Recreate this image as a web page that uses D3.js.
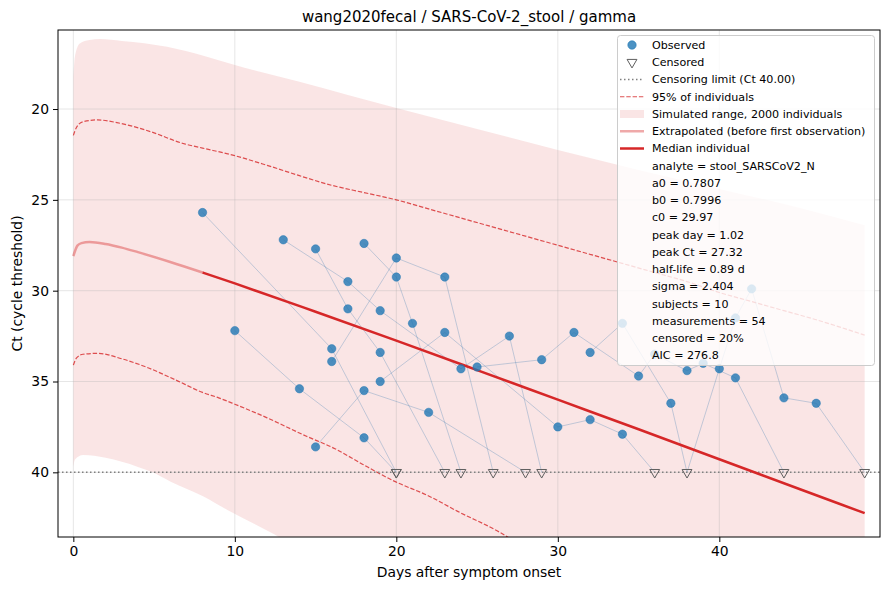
<head>
	<meta charset="utf-8">
	<script src="https://d3js.org/d3.v7.min.js"></script>
	<style>
		body {
			margin: 0;
			background: #fff;
		}
		svg text {
			font-family: "DejaVu Sans", sans-serif;
			fill: #000;
		}
		.tick text {
			font-size: 13.9px;
		}
	</style>
</head>
<body>

<svg width="890" height="590" id="chart"></svg>

<script>

	// one array per subject; null = below detection (censored at the limit)
	var subjectDays = [
		[13, 17, 19, 24, 27, 29],
		[15, 17, 19, 23],
		[10, 14, 18, 20],
		[15, 18, 22, 28],
		[18, 20, 21, 24],
		[8, 16, 20],
		[19, 23, 30, 32, 34, 36],
		[16, 20, 23, 26],
		[25, 29, 31, 35, 36, 38, 39, 41, 44],
		[32, 34, 37, 38, 40, 41, 42, 44, 46, 49]
	];
	var subjectCt = [
		[27.2, 29.5, 31.1, 34.3, 32.5, null],
		[27.7, 31.0, 33.4, null],
		[32.2, 35.4, 38.1, null],
		[38.6, 35.5, 36.7, null],
		[27.4, 29.25, 31.8, null],
		[25.7, 33.2, null],
		[35.0, 32.3, 37.5, 37.1, 37.9, null],
		[33.9, 28.2, 29.25, null],
		[34.2, 33.8, 32.3, 34.7, 33.5, 34.4, 34.0, 34.8, null],
		[33.4, 31.8, 36.2, null, 34.3, 31.5, 29.9, 35.9, 36.2, null]
	];
	var censorLimit = 40;

	// median individual
	var medianDays = [0, 0.25, 0.5, 1, 2, 3, 4, 6, 8, 10, 15, 20, 25, 30, 35, 40, 45, 49];
	var medianCt = [28.1, 27.52, 27.38, 27.32, 27.43, 27.63, 27.88, 28.42, 29.0, 29.6, 31.16, 32.75, 34.37, 36.0, 37.63, 39.28, 40.93, 42.25];

	// 95% of individuals
	var upperDays = [0, 0.2, 0.6, 1.5, 2.7, 4.8, 6.8, 8, 10, 12, 14, 16, 18, 20, 22, 24, 26, 28, 30, 32, 34, 36, 38, 40, 42, 44, 46, 49];
	var upperCt = [21.45, 21.0, 20.7, 20.6, 20.75, 21.25, 21.9, 22.15, 22.57, 23.1, 23.67, 24.2, 24.6, 25.0, 25.5, 26.0, 26.5, 27.0, 27.5, 28.0, 28.5, 29.0, 29.5, 30.1, 30.6, 31.1, 31.6, 32.45];
	var lowerDays = [0, 0.2, 0.6, 1.5, 3, 4.5, 6.3, 8, 9, 10, 12, 14.4, 16.2, 17.9, 19.9, 22, 23.8, 26.4, 28];
	var lowerCt = [34.1, 33.7, 33.5, 33.45, 33.75, 34.2, 34.9, 35.6, 35.9, 36.25, 37.0, 38.0, 38.7, 39.55, 40.5, 41.3, 42.15, 43.3, 44.2];

	// simulated range, 2000 individuals
	var simTopDays = [0, 0.1, 0.4, 1, 1.65, 3, 5.8, 8, 10, 14, 20, 25, 30, 35, 40, 45, 49];
	var simTopCt = [18.2, 17.1, 16.4, 16.2, 16.15, 16.25, 16.57, 17.05, 17.58, 18.5, 19.95, 21.1, 22.25, 23.35, 24.4, 25.45, 26.4];
	var simBottomDays = [0, 0.1, 0.6, 2, 4, 4.9, 6, 8, 9.6, 12.2, 14, 20, 30, 40, 49];
	var simBottomCt = [39.7, 39.3, 39.05, 39.2, 39.7, 40.0, 40.5, 41.3, 42.1, 43.3, 44.2, 47.5, 52.5, 57.5, 62];

	var xTicks = [0, 10, 20, 30, 40];
	var yTicks = [20, 25, 30, 35, 40];

	var legendItems = ["Observed", "Censored", "Censoring limit (Ct 40.00)", "95% of individuals",
		"Simulated range, 2000 individuals", "Extrapolated (before first observation)", "Median individual"];
	var fitStats = ["analyte = stool_SARSCoV2_N", "a0 = 0.7807", "b0 = 0.7996", "c0 = 29.97",
		"peak day = 1.02", "peak Ct = 27.32", "half-life = 0.89 d", "sigma = 2.404",
		"subjects = 10", "measurements = 54", "censored = 20%", "AIC = 276.8"];

	var red = "#d62728", blue = "#1f77b4";

	var svg = d3.select("#chart"),
		plot = {left: 58, right: 880, top: 30, bottom: 537};

	var x = d3.scaleLinear().domain([-0.95, 49.95]).range([plot.left, plot.right]);
	var y = d3.scaleLinear().domain([15.65, 43.56]).range([plot.top, plot.bottom]);

	svg.append("clipPath").attr("id", "clip")
		.append("rect")
		.attr("x", plot.left).attr("y", plot.top)
		.attr("width", plot.right - plot.left).attr("height", plot.bottom - plot.top);

	var g = svg.append("g").attr("clip-path", "url(#clip)");

	var zip = (days, vals) => days.map((d, i) => ({day: d, ct: vals[i]}));

	var curve = d3.line().x(d => x(d.day)).y(d => y(d.ct)).curve(d3.curveMonotoneX);

	// band: upper edge left to right, lower edge back right to left
	var simUpper = zip(simTopDays, simTopCt),
		simLower = zip(simBottomDays, simBottomCt);
	var lowerBack = curve(simLower.slice().reverse());
	var bandPath = curve(simUpper) + "L" + lowerBack.slice(1) + "Z";
	g.append("path")
		.attr("d", bandPath)
		.attr("fill", red)
		.attr("fill-opacity", 0.12);

	// grid
	g.selectAll(".gx").data(xTicks).enter().append("line")
		.attr("x1", d => x(d)).attr("x2", d => x(d))
		.attr("y1", plot.top).attr("y2", plot.bottom)
		.attr("stroke", "#b0b0b0").attr("stroke-opacity", 0.4).attr("stroke-width", 0.8);
	g.selectAll(".gy").data(yTicks).enter().append("line")
		.attr("y1", d => y(d)).attr("y2", d => y(d))
		.attr("x1", plot.left).attr("x2", plot.right)
		.attr("stroke", "#b0b0b0").attr("stroke-opacity", 0.4).attr("stroke-width", 0.8);

	// 95% lines
	[zip(upperDays, upperCt), zip(lowerDays, lowerCt)].forEach(function(pts) {
		g.append("path")
			.attr("d", curve(pts))
			.attr("fill", "none")
			.attr("stroke", red)
			.attr("stroke-opacity", 0.8)
			.attr("stroke-width", 1.2)
			.attr("stroke-dasharray", "4.4,1.9");
	});

	// subject data
	var subjects = subjectDays.map((days, s) => days.map((d, i) => ({
		day: d,
		ct: subjectCt[s][i] == null ? censorLimit : subjectCt[s][i],
		censored: subjectCt[s][i] == null
	})));
	var points = [].concat(...subjects);

	g.selectAll(".subject")
		.data(subjects)
		.enter().append("path")
		.attr("class", "subject")
		.attr("d", d3.line().x(d => x(d.day)).y(d => y(d.ct)))
		.attr("fill", "none")
		.attr("stroke", "#4682b4")
		.attr("stroke-opacity", 0.32)
		.attr("stroke-width", 1);

	// censoring limit
	g.append("line")
		.attr("x1", plot.left).attr("x2", plot.right)
		.attr("y1", y(censorLimit)).attr("y2", y(censorLimit))
		.attr("stroke", "#808080")
		.attr("stroke-width", 1.5)
		.attr("stroke-dasharray", "1.5,2.5");

	// median individual, split at the first observation
	var firstDay = d3.min(points, d => d.day);
	var median = zip(medianDays, medianCt);
	g.append("path")
		.attr("d", curve(median.filter(d => d.day <= firstDay)))
		.attr("fill", "none").attr("stroke", red)
		.attr("stroke-opacity", 0.4).attr("stroke-width", 2.5);
	g.append("path")
		.attr("d", curve(median.filter(d => d.day >= firstDay)))
		.attr("fill", "none").attr("stroke", red)
		.attr("stroke-width", 2.5);

	var tri = d3.symbol().type(d3.symbolTriangle).size(42);

	g.selectAll(".obs")
		.data(points.filter(d => !d.censored))
		.enter().append("circle")
		.attr("cx", d => x(d.day))
		.attr("cy", d => y(d.ct))
		.attr("r", 4.2)
		.attr("fill", blue)
		.attr("fill-opacity", 0.8)
		.attr("stroke", blue)
		.attr("stroke-opacity", 0.8)
		.attr("stroke-width", 0.6);

	g.selectAll(".cens")
		.data(points.filter(d => d.censored))
		.enter().append("path")
		.attr("d", tri)
		.attr("transform", d => "translate(" + x(d.day) + "," + y(d.ct) + ") rotate(180)")
		.attr("fill", "none")
		.attr("stroke", "#5f5f5f")
		.attr("stroke-width", 1);

	// frame and axes
	svg.append("rect")
		.attr("x", plot.left).attr("y", plot.top)
		.attr("width", plot.right - plot.left).attr("height", plot.bottom - plot.top)
		.attr("fill", "none").attr("stroke", "#000").attr("stroke-width", 1);

	var xAxis = svg.append("g")
		.attr("transform", "translate(0," + plot.bottom + ")")
		.call(d3.axisBottom(x).tickValues(xTicks).tickSize(5).tickPadding(4));
	var yAxis = svg.append("g")
		.attr("transform", "translate(" + plot.left + ",0)")
		.call(d3.axisLeft(y).tickValues(yTicks).tickSize(5).tickPadding(4));
	[xAxis, yAxis].forEach(function(a) {
		a.select(".domain").remove();
		a.selectAll(".tick line").attr("stroke", "#000");
		a.selectAll(".tick text").attr("fill", "#000");
	});

	svg.append("text")
		.attr("x", (plot.left + plot.right) / 2)
		.attr("y", 22)
		.attr("text-anchor", "middle")
		.style("font-size", "15px")
		.text("wang2020fecal / SARS-CoV-2_stool / gamma");

	svg.append("text")
		.attr("x", (plot.left + plot.right) / 2)
		.attr("y", 577)
		.attr("text-anchor", "middle")
		.style("font-size", "13.9px")
		.text("Days after symptom onset");

	svg.append("text")
		.attr("transform", "translate(22," + (plot.top + plot.bottom) / 2 + ") rotate(-90)")
		.attr("text-anchor", "middle")
		.style("font-size", "13.9px")
		.text("Ct (cycle threshold)");

	// legend
	var rows = legendItems.concat(fitStats),
		rowY = i => 45 + i * 17.25;

	var legend = svg.append("g").attr("class", "legend");

	legend.append("rect")
		.attr("x", 617.5).attr("y", 35.5)
		.attr("width", 257).attr("height", 330)
		.attr("rx", 3)
		.attr("fill", "#fff").attr("fill-opacity", 0.8)
		.attr("stroke", "#cccccc").attr("stroke-width", 1);

	legend.selectAll(".row")
		.data(rows)
		.enter().append("text")
		.attr("x", 652)
		.attr("y", (d, i) => rowY(i))
		.attr("dy", "0.36em")
		.style("font-size", "11.1px")
		.text(d => d);

	legend.append("circle")
		.attr("cx", 632).attr("cy", rowY(0)).attr("r", 4.2)
		.attr("fill", blue).attr("fill-opacity", 0.8)
		.attr("stroke", blue).attr("stroke-width", 0.6);
	legend.append("path")
		.attr("d", tri)
		.attr("transform", "translate(632," + rowY(1) + ") rotate(180)")
		.attr("fill", "none").attr("stroke", "#5f5f5f");
	legend.append("line")
		.attr("x1", 620).attr("x2", 644).attr("y1", rowY(2)).attr("y2", rowY(2))
		.attr("stroke", "#808080").attr("stroke-width", 1.5).attr("stroke-dasharray", "1.5,2.5");
	legend.append("line")
		.attr("x1", 620).attr("x2", 644).attr("y1", rowY(3)).attr("y2", rowY(3))
		.attr("stroke", red).attr("stroke-opacity", 0.8).attr("stroke-width", 1.2)
		.attr("stroke-dasharray", "4.4,1.9");
	legend.append("rect")
		.attr("x", 620).attr("y", rowY(4) - 4).attr("width", 24).attr("height", 8)
		.attr("fill", red).attr("fill-opacity", 0.12);
	legend.append("line")
		.attr("x1", 620).attr("x2", 644).attr("y1", rowY(5)).attr("y2", rowY(5))
		.attr("stroke", red).attr("stroke-opacity", 0.4).attr("stroke-width", 2.5);
	legend.append("line")
		.attr("x1", 620).attr("x2", 644).attr("y1", rowY(6)).attr("y2", rowY(6))
		.attr("stroke", red).attr("stroke-width", 2.5);

</script>
</body>
